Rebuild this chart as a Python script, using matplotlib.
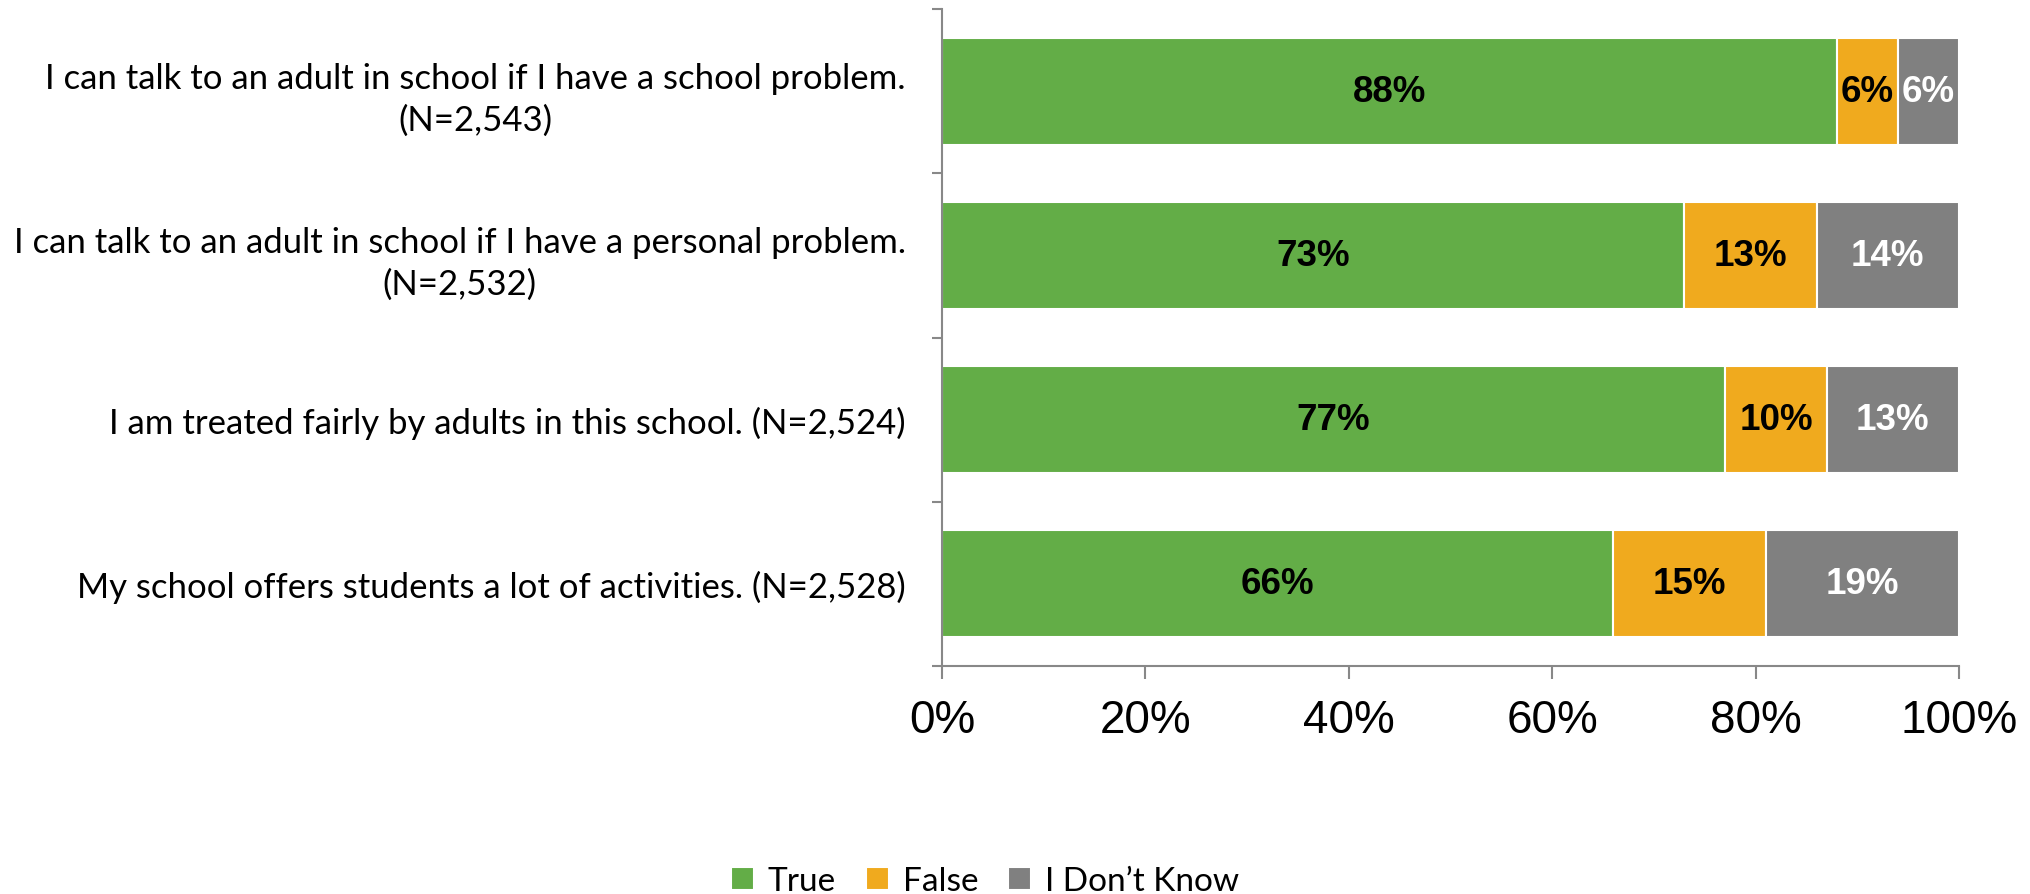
import matplotlib
matplotlib.use("Agg")
import matplotlib.pyplot as plt
import numpy as np

categories = [
    "I can talk to an adult in school if I have a school problem.\n(N=2,543)",
    "I can talk to an adult in school if I have a personal problem.\n(N=2,532)",
    "I am treated fairly by adults in this school. (N=2,524)",
    "My school offers students a lot of activities. (N=2,528)",
]
series_names = ["True", "False", "I Don\u2019t Know"]
true_vals = [88, 73, 77, 66]
false_vals = [6, 13, 10, 15]
dk_vals = [6, 14, 13, 19]
xticks = [0, 20, 40, 60, 80, 100]
xtick_labels = ["0%", "20%", "40%", "60%", "80%", "100%"]

colors = ["#63AD47", "#F0AA1E", "#808080"]
text_colors = ["black", "black", "white"]

fig = plt.figure(figsize=(20.3, 8.95), dpi=100)
ax = fig.add_axes([942/2030, 1-667/895, (1959-942)/2030, (667-10)/895])

y = np.arange(len(categories))
left = np.zeros(len(categories))
for vals, name, col, tcol in zip([true_vals, false_vals, dk_vals], series_names, colors, text_colors):
    vals = np.array(vals, dtype=float)
    bars = ax.barh(y, vals, left=left, height=0.65, color=col, edgecolor="white", linewidth=1.5, label=name)
    for b, v in zip(bars, vals):
        ax.text(b.get_x() + b.get_width()/2, b.get_y() + b.get_height()/2, f"{int(v)}%",
                ha="center", va="center", color=tcol, fontsize=26.5, fontweight="bold",
                family="Liberation Sans")
    left += vals

ax.set_xlim(0, 100)
ax.set_ylim(len(categories) - 0.5, -0.5)
ax.set_yticks(y)
ax.set_yticklabels(categories, fontsize=25, family="Lato", multialignment="center", linespacing=1.35)
ax.tick_params(axis="y", which="major", length=0, pad=26)
ax.set_yticks(np.arange(-0.5, len(categories) + 0.5, 1), minor=True)
ax.tick_params(axis="y", which="minor", length=7, color="#888888", width=1.5)
ax.set_xticks(xticks)
ax.set_xticklabels(xtick_labels, fontsize=33, family="Liberation Sans")
ax.tick_params(axis="x", length=9, color="#888888", width=1.5, pad=14)
for s in ["top", "right"]:
    ax.spines[s].set_visible(False)
for s in ["left", "bottom"]:
    ax.spines[s].set_color("#888888")
    ax.spines[s].set_linewidth(1.5)

handles, labels = ax.get_legend_handles_labels()
fig.legend(handles, labels, loc="center", bbox_to_anchor=(985/2030, 1-882/895), ncol=3,
           frameon=False, prop={"family": "Lato", "size": 24}, handlelength=0.7, handleheight=0.7,
           handletextpad=0.4, columnspacing=0.9)

fig.savefig("out.png", dpi=100)
